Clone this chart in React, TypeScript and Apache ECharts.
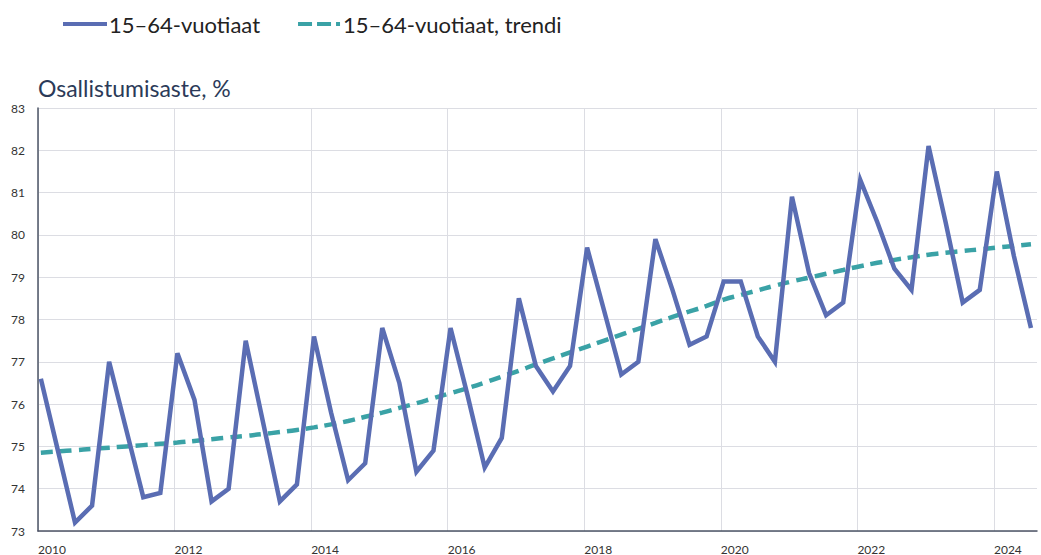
import React, { useEffect, useRef } from "react";
import * as echarts from "echarts";

const startYear = 2010;
const xTickLabels = ["2010", "2012", "2014", "2016", "2018", "2020", "2022", "2024"];
const seriesNames = ["15–64-vuotiaat", "15–64-vuotiaat, trendi"];

// Quarterly participation rate, 2010Q1 – 2024Q3
const rate = [
  76.6, 74.9, 73.2, 73.6,
  77.0, 75.4, 73.8, 73.9,
  77.2, 76.1, 73.7, 74.0,
  77.5, 75.6, 73.7, 74.1,
  77.6, 75.8, 74.2, 74.6,
  77.8, 76.5, 74.4, 74.9,
  77.8, 76.2, 74.5, 75.2,
  78.5, 76.9, 76.3, 76.9,
  79.7, 78.2, 76.7, 77.0,
  79.9, 78.7, 77.4, 77.6,
  78.9, 78.9, 77.6, 77.0,
  80.9, 79.1, 78.1, 78.4,
  81.3, 80.3, 79.2, 78.7,
  82.1, 80.3, 78.4, 78.7,
  81.5, 79.5, 77.8,
];

const trend = [
  74.85, 74.88, 74.91, 74.94,
  74.97, 75.0, 75.03, 75.06,
  75.09, 75.13, 75.17, 75.21,
  75.25, 75.29, 75.34, 75.39,
  75.45, 75.52, 75.6, 75.7,
  75.8, 75.91, 76.02, 76.14,
  76.26, 76.38, 76.51, 76.65,
  76.79, 76.94, 77.08, 77.22,
  77.36, 77.5, 77.64, 77.78,
  77.92, 78.06, 78.19, 78.32,
  78.47, 78.58, 78.69, 78.8,
  78.9, 78.99, 79.08, 79.17,
  79.26, 79.34, 79.41, 79.47,
  79.53, 79.58, 79.62, 79.66,
  79.7, 79.74, 79.78,
];

const quarterX = (i: number) => startYear + i / 4 + 1 / 24;

const solidIcon = "path://M0,0H44V4H0Z";
const dashedIcon = "path://M0,0H14V4H0Z M19,0H33V4H19Z M38,0H42V4H38Z";

export default function App() {
  const ref = useRef<HTMLDivElement>(null);
  useEffect(() => {
    if (!ref.current) return;
    const chart = echarts.init(ref.current, null, { renderer: "svg" });
    const font = "Lato, 'Open Sans', sans-serif";
    chart.setOption({
      animation: false,
      backgroundColor: "#ffffff",
      textStyle: { fontFamily: font },
      title: {
        text: "Osallistumisaste, %",
        left: 33,
        top: 71,
        textStyle: { fontFamily: font, fontSize: 23, fontWeight: "normal", color: "#2b3a58" },
      },
      legend: {
        left: 58,
        top: 8,
        itemWidth: 44,
        itemHeight: 4,
        itemGap: 38,
        textStyle: { fontFamily: font, fontSize: 22, color: "#222222", padding: [0, 0, 0, -3] },
        data: [
          { name: seriesNames[0], icon: solidIcon },
          { name: seriesNames[1], icon: dashedIcon },
        ],
      },
      grid: { left: 38, right: 4, top: 108, bottom: 23, containLabel: false },
      xAxis: {
        type: "value",
        min: 2010,
        max: 2024.63,
        interval: 2,
        axisLine: { show: true, onZero: false, lineStyle: { color: "#4d5466", width: 1.5 } },
        axisTick: { show: false },
        axisLabel: {
          showMaxLabel: false,
          color: "#333333",
          fontSize: 12,
          fontFamily: font,
          align: "left",
          margin: 12,
          formatter: (v: number) => (xTickLabels.includes(String(v)) ? String(v) : ""),
        },
        splitLine: {
          show: true,
          lineStyle: {
            color: ["#dcdde3", "#dcdde3", "#dcdde3", "#dcdde3", "#dcdde3", "#dcdde3", "#dcdde3", "#dcdde3", "rgba(0,0,0,0)"],
            width: 1,
          },
        },
      },
      yAxis: {
        type: "value",
        min: 73,
        max: 83,
        interval: 1,
        axisLine: { show: true, lineStyle: { color: "#4d5466", width: 1.5 } },
        axisTick: { show: false },
        axisLabel: { color: "#333333", fontSize: 12, fontFamily: font, margin: 13 },
        splitLine: { show: true, lineStyle: { color: "#dcdde3", width: 1 } },
      },
      series: [
        {
          name: seriesNames[0],
          type: "line",
          data: rate.map((v, i) => [quarterX(i), v]),
          showSymbol: false,
          symbol: "none",
          lineStyle: { color: "#5a6db3", width: 4.5, join: "miter" },
          itemStyle: { color: "#5a6db3" },
          z: 3,
        },
        {
          name: seriesNames[1],
          type: "line",
          data: trend.map((v, i) => [quarterX(i), v]),
          showSymbol: false,
          symbol: "none",
          smooth: true,
          lineStyle: { color: "#3aa2a6", width: 4.5, type: [12, 7] },
          itemStyle: { color: "#3aa2a6" },
          z: 2,
        },
      ],
    });
    return () => chart.dispose();
  }, []);
  return (
    <div
      ref={ref}
      style={{ position: "fixed", left: 0, top: 0, width: 1041, height: 555, background: "#fff" }}
    />
  );
}
